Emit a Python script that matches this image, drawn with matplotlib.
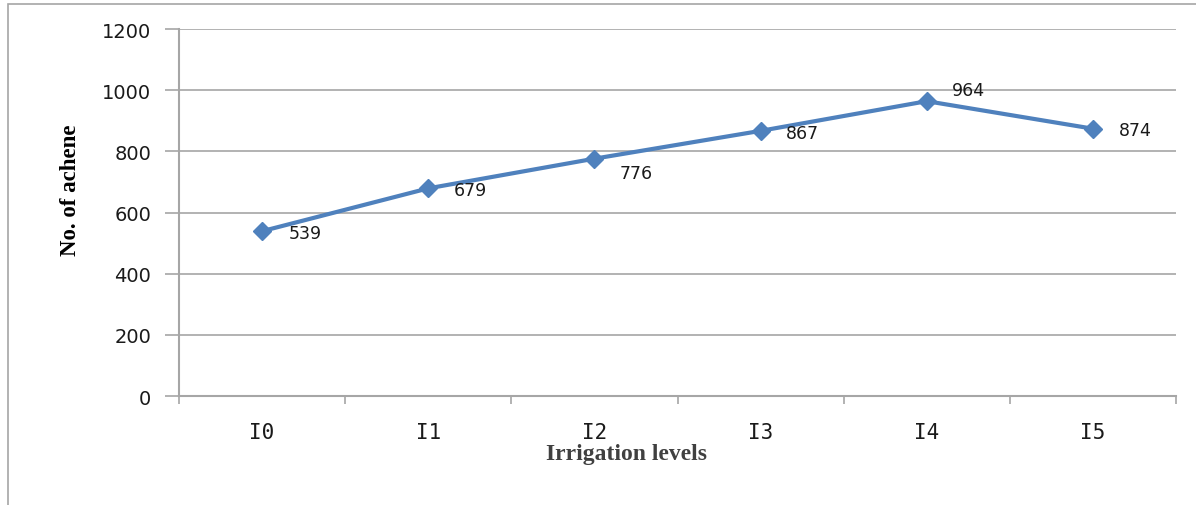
import matplotlib.pyplot as plt
from matplotlib.patches import Rectangle

levels = ['I0', 'I1', 'I2', 'I3', 'I4', 'I5']
achenes = [539, 679, 776, 867, 964, 874]
# label offsets in pixels (right, down) from each point
label_dx = [27, 25, 25, 25, 25, 26]
label_dy = [-2, -2, -14, -2, 11, -1]

fig = plt.figure(figsize=(11.96, 5.06), dpi=100)
ax = fig.add_axes([0.1497, 0.2154, 0.8336, 0.7253])

# outer chart border
fig.patches.append(Rectangle((8 / 1196, -0.1), 1.2, 1 - 5 / 506 + 0.1,
                             transform=fig.transFigure, fill=False,
                             edgecolor='#a6a6a6', linewidth=1.2))

x = list(range(len(levels)))
ax.plot(x, achenes, color='#4f81bd', linewidth=3, marker='D',
        markersize=9, zorder=3)

for i, v in enumerate(achenes):
    ax.annotate(str(v), (x[i], v), xytext=(label_dx[i], label_dy[i]),
                textcoords='offset pixels', ha='left', va='center',
                fontsize=12.5, family='DejaVu Sans', color='#1a1a1a')

ax.set_xlim(-0.5, 5.5)
ax.set_ylim(0, 1200)
ax.set_yticks(range(0, 1201, 200))
ax.yaxis.grid(True, color='#a6a6a6', linewidth=1.2)
ax.set_axisbelow(True)

ax.set_xticks([i + 0.5 for i in range(-1, 6)])
ax.set_xticklabels([])
ax.set_xticks(x, minor=True)
ax.set_xticklabels(levels, minor=True, family='DejaVu Sans Mono', fontsize=15,
                   color='#1a1a1a')
ax.tick_params(axis='x', which='major', length=6, color='#a6a6a6', width=1.2)
ax.tick_params(axis='x', which='minor', length=0, pad=19)
ax.tick_params(axis='y', length=10, color='#a6a6a6', width=1.2,
               labelsize=14, labelcolor='#1a1a1a', pad=10)

for s in ['top', 'right']:
    ax.spines[s].set_visible(False)
for s in ['left', 'bottom']:
    ax.spines[s].set_color('#a6a6a6')
    ax.spines[s].set_linewidth(1.5)

fig.text(70 / 1196, 1 - 190 / 506, 'No. of achene', rotation=90,
         ha='center', va='center', family='Liberation Serif',
         fontweight='bold', fontsize=16.5)
fig.text(627 / 1196, 1 - 455 / 506, 'Irrigation levels', ha='center',
         va='center', family='Liberation Serif', fontweight='bold',
         fontsize=17, color='#404040')

fig.savefig('out.png', dpi=100)
